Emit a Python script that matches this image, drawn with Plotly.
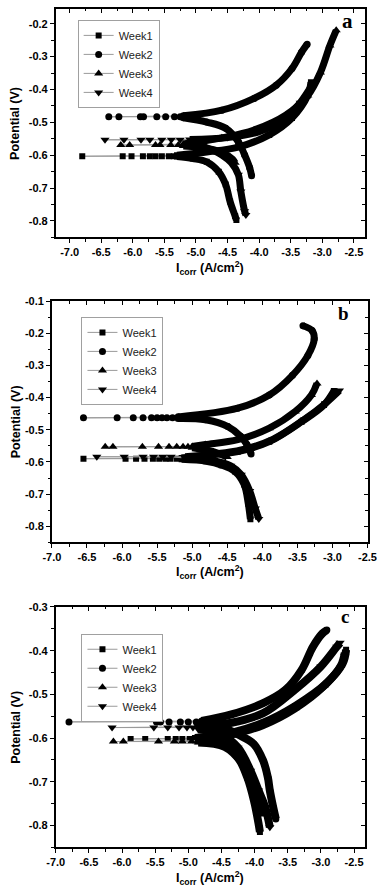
import plotly.graph_objects as go

WEEKS = ["Week1", "Week2", "Week3", "Week4"]
SYMBOLS = ["square", "circle", "triangle-up", "triangle-down"]

# ---------------- panel a ----------------
A1_E = -0.603
A1_SX = [-6.80, -6.16, -6.02, -5.84, -5.73, -5.64, -5.54, -5.43, -5.35]
A1_CX = [-5.30, -5.05, -4.83, -4.64, -4.53, -4.46, -4.38, -4.36]
A1_CY = [-0.604, -0.610, -0.620, -0.650, -0.689, -0.741, -0.785, -0.797]
A1_AX = [-5.30, -4.83, -4.33, -3.84, -3.48, -3.23, -3.18]
A1_AY = [-0.600, -0.590, -0.575, -0.538, -0.487, -0.418, -0.378]

A2_E = -0.483
A2_SX = [-6.38, -6.22, -5.88, -5.83, -5.62, -5.48, -5.34, -5.25]
A2_CX = [-5.20, -4.83, -4.53, -4.33, -4.23, -4.15, -4.12]
A2_CY = [-0.486, -0.499, -0.518, -0.559, -0.599, -0.638, -0.662]
A2_AX = [-5.20, -4.59, -4.08, -3.73, -3.48, -3.33, -3.24]
A2_AY = [-0.480, -0.463, -0.427, -0.387, -0.336, -0.287, -0.262]

A3_E = -0.569
A3_SX = [-6.19, -6.05, -5.64, -5.57, -5.40, -5.28]
A3_CX = [-5.20, -4.80, -4.55, -4.42, -4.38]
A3_CY = [-0.572, -0.580, -0.595, -0.612, -0.623]
A3_AX = [-5.20, -4.59, -4.08, -3.58, -3.23, -3.03, -2.88, -2.78]
A3_AY = [-0.566, -0.547, -0.523, -0.478, -0.418, -0.348, -0.266, -0.220]

A4_E = -0.553
A4_SX = [-6.44, -6.14, -5.87, -5.73, -5.54, -5.39, -5.25]
A4_CX = [-5.10, -4.80, -4.59, -4.44, -4.33, -4.29, -4.23, -4.21]
A4_CY = [-0.560, -0.580, -0.599, -0.623, -0.659, -0.710, -0.770, -0.782]
A4_AX = [-5.10, -4.50, -4.00, -3.60, -3.35, -3.15]
A4_AY = [-0.552, -0.546, -0.528, -0.490, -0.440, -0.382]

# ---------------- panel b ----------------
B1_E = -0.590
B1_SX = [-6.55, -5.95, -5.80, -5.68, -5.56, -5.47, -5.38, -5.31, -5.22]
B1_CX = [-5.15, -4.80, -4.58, -4.39, -4.26, -4.20, -4.17]
B1_CY = [-0.592, -0.598, -0.610, -0.630, -0.670, -0.730, -0.778]
B1_AX = [-5.15, -4.81, -4.35, -3.90, -3.44, -3.12, -2.98]
B1_AY = [-0.588, -0.580, -0.568, -0.537, -0.475, -0.423, -0.380]

B2_E = -0.463
B2_SX = [-6.55, -6.07, -5.84, -5.70, -5.58, -5.50, -5.43, -5.36, -5.28]
B2_CX = [-5.20, -4.81, -4.49, -4.31, -4.22, -4.16]
B2_CY = [-0.465, -0.469, -0.490, -0.520, -0.546, -0.575]
B2_AX = [-5.20, -4.35, -3.90, -3.57, -3.35, -3.26, -3.29, -3.42]
B2_AY = [-0.460, -0.433, -0.392, -0.331, -0.269, -0.218, -0.192, -0.177]

B3_E = -0.553
B3_SX = [-6.24, -6.13, -5.71, -5.48, -5.33, -5.22, -5.13, -5.06]
B3_CX = [-5.00, -4.70, -4.50]
B3_CY = [-0.556, -0.568, -0.585]
B3_AX = [-5.00, -4.81, -4.35, -3.90, -3.53, -3.30, -3.22]
B3_AY = [-0.552, -0.546, -0.531, -0.495, -0.443, -0.392, -0.356]

B4_E = -0.584
B4_SX = [-6.36, -5.97, -5.70, -5.55, -5.42, -5.30]
B4_CX = [-5.10, -4.70, -4.45, -4.30, -4.18, -4.10, -4.05]
B4_CY = [-0.588, -0.596, -0.612, -0.640, -0.690, -0.745, -0.777]
B4_AX = [-5.10, -4.70, -4.30, -3.85, -3.40, -3.10, -2.90]
B4_AY = [-0.584, -0.576, -0.563, -0.530, -0.468, -0.418, -0.378]

# ---------------- panel c ----------------
C1_E = -0.602
C1_SX = [-5.87, -5.65, -5.31, -5.19, -5.09, -4.98]
C1_CX = [-4.90, -4.49, -4.25, -4.11, -4.01, -3.94, -3.92]
C1_CY = [-0.605, -0.612, -0.645, -0.690, -0.743, -0.796, -0.815]
C1_AX = [-4.90, -4.35, -3.87, -3.39, -2.91, -2.67, -2.62]
C1_AY = [-0.600, -0.588, -0.565, -0.527, -0.474, -0.429, -0.398]

C2_E = -0.563
C2_SX = [-6.80, -5.48, -5.42, -5.29, -5.12, -5.00, -4.88]
C2_CX = [-4.80, -4.50, -4.25, -4.01, -3.87, -3.80, -3.77, -3.72, -3.68]
C2_CY = [-0.566, -0.575, -0.592, -0.614, -0.652, -0.690, -0.720, -0.758, -0.785]
C2_AX = [-4.80, -4.35, -3.87, -3.53, -3.29, -3.12, -2.98, -2.91]
C2_AY = [-0.561, -0.546, -0.520, -0.489, -0.444, -0.391, -0.361, -0.353]

C3_E = -0.608
C3_SX = [-6.13, -5.98, -5.45, -5.21, -5.09, -4.95]
C3_CX = [-4.85, -4.45, -4.20, -4.05, -3.95, -3.89]
C3_CY = [-0.610, -0.620, -0.655, -0.700, -0.745, -0.775]
C3_AX = [-4.85, -4.35, -3.87, -3.39, -2.95, -2.70, -2.64]
C3_AY = [-0.606, -0.592, -0.570, -0.532, -0.480, -0.435, -0.405]

C4_E = -0.576
C4_SX = [-6.15, -5.52, -5.31, -5.14, -5.02, -4.93]
C4_CX = [-4.85, -4.50, -4.25, -4.06, -3.94, -3.84, -3.77]
C4_CY = [-0.580, -0.592, -0.622, -0.675, -0.720, -0.758, -0.804]
C4_AX = [-4.85, -4.35, -3.87, -3.39, -3.00, -2.76, -2.71]
C4_AY = [-0.574, -0.565, -0.543, -0.489, -0.436, -0.391, -0.382]

# ---------------- axes ----------------
X_TICKS = [-7.0, -6.5, -6.0, -5.5, -5.0, -4.5, -4.0, -3.5, -3.0, -2.5]
A_Y_TICKS = [-0.8, -0.7, -0.6, -0.5, -0.4, -0.3, -0.2]
B_Y_TICKS = [-0.8, -0.7, -0.6, -0.5, -0.4, -0.3, -0.2, -0.1]
C_Y_TICKS = [-0.8, -0.7, -0.6, -0.5, -0.4, -0.3]
PANEL_LABELS = ["a", "b", "c"]
X_TITLE = "I<sub>corr</sub> (A/cm<sup>2</sup>)"
Y_TITLE = "Potential (V)"

W, H = 387, 895
FONT = "Liberation Sans, Arial, sans-serif"

panels = [
    dict(series=[(A1_E, A1_SX, A1_CX, A1_CY, A1_AX, A1_AY), (A2_E, A2_SX, A2_CX, A2_CY, A2_AX, A2_AY),
                 (A3_E, A3_SX, A3_CX, A3_CY, A3_AX, A3_AY), (A4_E, A4_SX, A4_CX, A4_CY, A4_AX, A4_AY)],
         xr=[-7.22, -2.33], yr=[-0.85, -0.155], yt=A_Y_TICKS,
         px=(49, 373), py=(3, 233), legend=(72, 14), lab=(355, 15, 21), xt=264, band=7),
    dict(series=[(B1_E, B1_SX, B1_CX, B1_CY, B1_AX, B1_AY), (B2_E, B2_SX, B2_CX, B2_CY, B2_AX, B2_AY),
                 (B3_E, B3_SX, B3_CX, B3_CY, B3_AX, B3_AY), (B4_E, B4_SX, B4_CX, B4_CY, B4_AX, B4_AY)],
         xr=[-7.0, -2.5], yr=[-0.85, -0.1], yt=B_Y_TICKS,
         px=(45, 376), py=(297, 540), legend=(76, 313), lab=(351, 310, 19), xt=570, band=7),
    dict(series=[(C1_E, C1_SX, C1_CX, C1_CY, C1_AX, C1_AY), (C2_E, C2_SX, C2_CX, C2_CY, C2_AX, C2_AY),
                 (C3_E, C3_SX, C3_CX, C3_CY, C3_AX, C3_AY), (C4_E, C4_SX, C4_CX, C4_CY, C4_AX, C4_AY)],
         xr=[-7.0, -2.34], yr=[-0.85, -0.3], yt=C_Y_TICKS,
         px=(49, 373), py=(605, 847), legend=(76, 632), lab=(352, 615, 19), xt=878, band=8),
]

fig = go.Figure()
layout = dict(width=W, height=H, margin=dict(l=0, r=0, t=0, b=0),
              paper_bgcolor="white", plot_bgcolor="white", showlegend=True,
              font=dict(family=FONT, color="black"))
annotations = []
tickfont = dict(family=FONT, size=11, color="black", weight="bold")

for i, p in enumerate(panels):
    n = i + 1
    xn = "x" if n == 1 else f"x{n}"
    yn = "y" if n == 1 else f"y{n}"
    xo, yo = f"x{n + 3}", f"y{n + 3}"
    leg = "legend" if n == 1 else f"legend{n}"
    xdom = [p["px"][0] / W, p["px"][1] / W]
    ydom = [1 - p["py"][1] / H, 1 - p["py"][0] / H]

    # marker traces (with thin grey connecting line)
    for k, (e, sx, cx, cy, ax, ay) in enumerate(p["series"]):
        sxd = sorted(sx, reverse=True)
        xs = cx[::-1] + sxd + ax
        ys = cy[::-1] + [e] * len(sxd) + ay
        sz = 6 if SYMBOLS[k] == "square" else (7 if SYMBOLS[k] == "circle" else 8)
        fig.add_trace(go.Scatter(x=xs, y=ys, mode="lines+markers", name=WEEKS[k],
                                 line=dict(color="#9a9a9a", width=1),
                                 marker=dict(symbol=SYMBOLS[k], size=sz, color="black"),
                                 xaxis=xn, yaxis=yn, legend=leg))
    # dense branches as thick black bands
    for k, (e, sx, cx, cy, ax, ay) in enumerate(p["series"]):
        for bx, by in ((cx, cy), (ax, ay)):
            fig.add_trace(go.Scatter(x=bx, y=by, mode="lines", showlegend=False,
                                     line=dict(color="black", width=p["band"], shape="spline", smoothing=1.0),
                                     xaxis=xn, yaxis=yn, hoverinfo="skip"))
    # empty traces binding the inside-tick overlay axes
    fig.add_trace(go.Scatter(x=[], y=[], xaxis=xo, yaxis=yn, showlegend=False))
    fig.add_trace(go.Scatter(x=[], y=[], xaxis=xn, yaxis=yo, showlegend=False))

    xkey = "xaxis" if n == 1 else f"xaxis{n}"
    ykey = "yaxis" if n == 1 else f"yaxis{n}"
    layout[xkey] = dict(domain=xdom, anchor=yn, range=p["xr"], showgrid=False, zeroline=False,
                        showline=True, linecolor="black", linewidth=1.6, mirror=True,
                        ticks="outside", ticklen=4, tickwidth=1.3, tickcolor="black",
                        tickvals=X_TICKS, ticktext=[f"{v:.1f}" for v in X_TICKS], tickfont=tickfont,
                        minor=dict(dtick=0.25, ticks="outside", ticklen=2.5, tickwidth=1, tickcolor="black"))
    layout[ykey] = dict(domain=ydom, anchor=xn, range=p["yr"], showgrid=False, zeroline=False,
                        showline=True, linecolor="black", linewidth=1.6, mirror=True,
                        ticks="outside", ticklen=4, tickwidth=1.3, tickcolor="black",
                        tickvals=p["yt"], ticktext=[f"{v:.1f}" for v in p["yt"]], tickfont=tickfont,
                        minor=dict(dtick=0.05, ticks="outside", ticklen=2.5, tickwidth=1, tickcolor="black"))
    layout[f"xaxis{n + 3}"] = dict(overlaying=xn, anchor=yn, side="top", range=p["xr"], showgrid=False,
                                   zeroline=False, showline=False, showticklabels=False,
                                   ticks="inside", ticklen=4, tickwidth=1.3, tickcolor="black",
                                   tickvals=X_TICKS,
                                   minor=dict(dtick=0.25, ticks="inside", ticklen=2.5, tickwidth=1, tickcolor="black"))
    layout[f"yaxis{n + 3}"] = dict(overlaying=yn, anchor=xn, side="right", range=p["yr"], showgrid=False,
                                   zeroline=False, showline=False, showticklabels=False,
                                   ticks="inside", ticklen=4, tickwidth=1.3, tickcolor="black",
                                   tickvals=p["yt"],
                                   minor=dict(dtick=0.05, ticks="inside", ticklen=2.5, tickwidth=1, tickcolor="black"))
    layout[leg] = dict(x=p["legend"][0] / W, y=1 - p["legend"][1] / H, xanchor="left", yanchor="top",
                       bgcolor="white", bordercolor="#a0a0a0", borderwidth=1, itemwidth=30,
                       font=dict(family=FONT, size=11, color="#222"), tracegroupgap=0)
    # axis titles
    annotations.append(dict(text=Y_TITLE, x=7 / W, y=1 - (p["py"][0] + p["py"][1]) / 2 / H,
                            xref="paper", yref="paper", showarrow=False, textangle=-90,
                            font=dict(family=FONT, size=12.5, color="black", weight="bold"),
                            xanchor="center", yanchor="middle"))
    annotations.append(dict(text=X_TITLE, x=211 / W, y=1 - p["xt"] / H, xref="paper", yref="paper",
                            showarrow=False, font=dict(family=FONT, size=12.5, color="black", weight="bold"),
                            xanchor="center", yanchor="middle"))
    lx, ly, ls = p["lab"]
    annotations.append(dict(text=PANEL_LABELS[i], x=lx / W, y=1 - ly / H, xref="paper", yref="paper",
                            showarrow=False, xanchor="center", yanchor="middle",
                            font=dict(family="Liberation Serif, Times New Roman, serif", size=ls,
                                      color="black", weight="bold")))

layout["annotations"] = annotations
fig.update_layout(**layout)
fig.write_html("out.html", config={"displayModeBar": False},
               post_script="document.body.style.margin='0';document.body.style.overflow='hidden';")
